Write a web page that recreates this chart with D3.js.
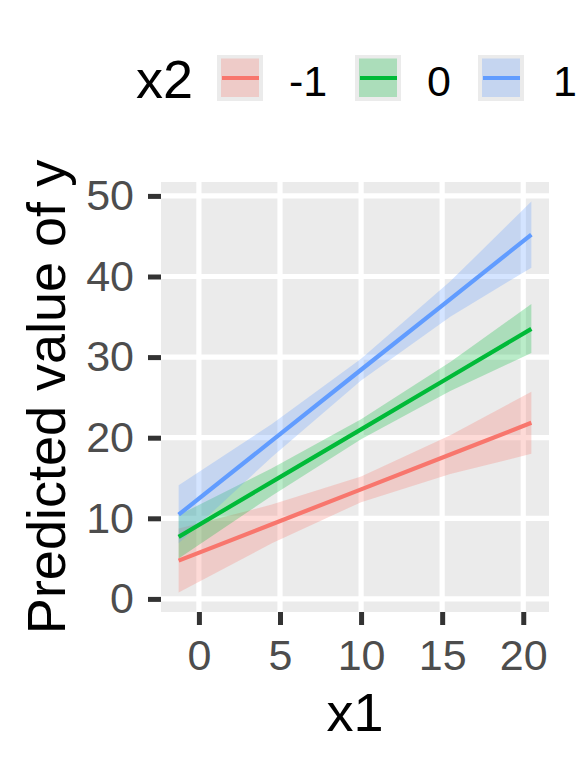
<!DOCTYPE html>
<html>
<head>
<meta charset="utf-8">
<script src="https://cdn.jsdelivr.net/npm/d3@7"></script>
<style>
  body { margin: 0; background: #fff; }
  svg text { font-family: "Liberation Sans", Arial, sans-serif; }
</style>
</head>
<body>
<div id="chart"></div>
<script>
// data
var x2Levels = ["-1", "0", "1"];
var x1Values = [-1.25, 4.5, 10, 15.5, 20.5];

var predNeg1 = [4.75, 9.27, 13.59, 17.91, 21.85];
var lowNeg1  = [0.8, 6.9, 12.0, 15.5, 18.0];
var highNeg1 = [8.75, 11.7, 15.2, 20.3, 25.7];

var pred0 = [7.7, 14.52, 21.04, 27.57, 33.5];
var low0  = [5.0, 12.8, 19.8, 25.8, 30.5];
var high0 = [10.4, 16.2, 22.3, 29.4, 36.6];

var pred1 = [10.45, 19.64, 28.43, 37.2, 45.2];
var low1  = [6.9, 17.6, 27.1, 35.0, 41.1];
var high1 = [14.1, 21.7, 29.8, 39.4, 49.3];

var xTicks = [0, 5, 10, 15, 20];
var yTicks = [0, 10, 20, 30, 40, 50];

// build one table per group
var groups = [
  { key: "-1", pred: predNeg1, low: lowNeg1, high: highNeg1 },
  { key: "0",  pred: pred0,    low: low0,    high: high0 },
  { key: "1",  pred: pred1,    low: low1,    high: high1 }
].map(function(g) {
  return { key: g.key, rows: x1Values.map(function(x, i) {
    return { x: x, y: g.pred[i], lo: g.low[i], hi: g.high[i] };
  }) };
});

var color = d3.scaleOrdinal().domain(x2Levels).range(["#F8766D", "#00BA38", "#619CFF"]);

var svg = d3.select("#chart").append("svg")
    .attr("width", 576)
    .attr("height", 768);

var panel = { left: 161, right: 549, top: 182, bottom: 612 };

// ggplot style 5% expansion
var allLo = d3.min(groups, function(g) { return d3.min(g.rows, function(d) { return d.lo; }); });
var allHi = d3.max(groups, function(g) { return d3.max(g.rows, function(d) { return d.hi; }); });
var xMin = d3.min(x1Values), xMax = d3.max(x1Values);
var xPad = (xMax - xMin) * 0.05, yPad = (allHi - allLo) * 0.05;

var x = d3.scaleLinear().domain([xMin - xPad, xMax + xPad]).range([panel.left, panel.right]);
var y = d3.scaleLinear().domain([allLo - yPad, allHi + yPad]).range([panel.bottom, panel.top]);

// panel background + grid
svg.append("rect")
    .attr("x", panel.left).attr("y", panel.top)
    .attr("width", panel.right - panel.left)
    .attr("height", panel.bottom - panel.top)
    .attr("fill", "#EBEBEB");

svg.selectAll(".gx").data(xTicks).enter().append("line")
    .attr("x1", function(d) { return x(d); }).attr("x2", function(d) { return x(d); })
    .attr("y1", panel.top).attr("y2", panel.bottom)
    .attr("stroke", "#fff").attr("stroke-width", 5.2);

svg.selectAll(".gy").data(yTicks).enter().append("line")
    .attr("y1", function(d) { return y(d); }).attr("y2", function(d) { return y(d); })
    .attr("x1", panel.left).attr("x2", panel.right)
    .attr("stroke", "#fff").attr("stroke-width", 5.2);

// ribbons, then lines
var area = d3.area()
    .x(function(d) { return x(d.x); })
    .y0(function(d) { return y(d.lo); })
    .y1(function(d) { return y(d.hi); });

var line = d3.line()
    .x(function(d) { return x(d.x); })
    .y(function(d) { return y(d.y); });

svg.selectAll(".ribbon").data(groups).enter().append("path")
    .attr("d", function(g) { return area(g.rows); })
    .attr("fill", function(g) { return color(g.key); })
    .attr("fill-opacity", 0.27);

svg.selectAll(".fit").data(groups).enter().append("path")
    .attr("d", function(g) { return line(g.rows); })
    .attr("fill", "none")
    .attr("stroke", function(g) { return color(g.key); })
    .attr("stroke-width", 4.2);

// axes
var yAxis = svg.append("g")
    .attr("transform", "translate(" + panel.left + ",0)")
    .call(d3.axisLeft(y).tickValues(yTicks).tickSize(13).tickPadding(14));
var xAxis = svg.append("g")
    .attr("transform", "translate(0," + panel.bottom + ")")
    .call(d3.axisBottom(x).tickValues(xTicks).tickSize(13).tickPadding(14));

[xAxis, yAxis].forEach(function(a) {
  a.select(".domain").remove();
  a.selectAll(".tick line").attr("stroke", "#333333").attr("stroke-width", 5);
  a.selectAll(".tick text").attr("fill", "#4D4D4D").style("font-size", "43px");
});

// axis titles
svg.append("text")
    .attr("x", (panel.left + panel.right) / 2).attr("y", 731)
    .attr("text-anchor", "middle")
    .style("font-size", "54px")
    .text("x1");

svg.append("text")
    .attr("transform", "translate(65," + (panel.top + panel.bottom) / 2 + ") rotate(-90)")
    .attr("text-anchor", "middle")
    .style("font-size", "54px")
    .text("Predicted value of y");

// legend
svg.append("text")
    .attr("x", 136).attr("y", 98)
    .style("font-size", "54px")
    .text("x2");

var keyX = [217, 355, 478];
var labX = [289, 427, 553];

var key = svg.selectAll(".key").data(x2Levels).enter().append("g")
    .attr("transform", function(d, i) { return "translate(" + keyX[i] + ",55)"; });

key.append("rect")
    .attr("width", 46).attr("height", 46)
    .attr("fill", "#EBEBEB");
key.append("rect")
    .attr("x", 4).attr("y", 3.5)
    .attr("width", 38).attr("height", 38.5)
    .attr("fill", function(d) { return color(d); })
    .attr("fill-opacity", 0.27);
key.append("line")
    .attr("x1", 5).attr("x2", 42)
    .attr("y1", 23).attr("y2", 23)
    .attr("stroke", function(d) { return color(d); })
    .attr("stroke-width", 4.2);

svg.selectAll(".klab").data(x2Levels).enter().append("text")
    .attr("x", function(d, i) { return labX[i]; })
    .attr("y", 96)
    .style("font-size", "43px")
    .text(function(d) { return d; });
</script>
</body>
</html>
